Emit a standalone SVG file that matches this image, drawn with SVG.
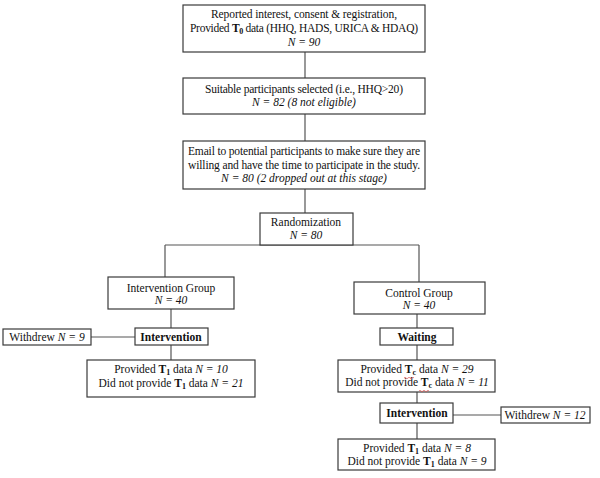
<svg xmlns="http://www.w3.org/2000/svg" width="600" height="478" viewBox="0 0 600 478">
<style>
.box{fill:#fff;stroke:#3a3a3a;stroke-width:1.2}
.ln{stroke:#555;stroke-width:1.2;fill:none}
text{font-family:'Liberation Serif','Times New Roman','DejaVu Serif',serif;font-size:11.5px;fill:#111;text-anchor:middle}
.i{font-style:italic}
.b{font-weight:bold}
.sub{font-size:8px;font-weight:bold}
.sq{stroke:#e05050;stroke-width:0.7;fill:none}
</style>
<rect width="600" height="478" fill="#fff"/>
<g id="connectors">
<path class="ln" d="M305 52V78M305 114V141M305 189V213"/>
<path class="ln" d="M165 245H419M165 245V277M419 245V282"/>
<path class="ln" d="M171 309V328M171 345V360M91 337H135"/>
<path class="ln" d="M417 314V328M417 345V360M417 392V403M417 423V439M453 415H501"/>
</g>
<g id="n1">
<rect class="box" x="183" y="5" width="242" height="47"/>
<text x="304" y="18" textLength="186" lengthAdjust="spacing">Reported interest, consent &amp; registration,</text>
<text x="304" y="32" textLength="228" lengthAdjust="spacing">Provided <tspan class="b">T</tspan><tspan class="sub" dy="2">0</tspan><tspan dy="-2"> data (HHQ, HADS, URICA &amp; HDAQ)</tspan></text>
<text x="304" y="46" class="i">N = 90</text>
</g>
<g id="n2">
<rect class="box" x="183" y="78" width="242" height="36"/>
<text x="304" y="93" textLength="198" lengthAdjust="spacing">Suitable participants selected (i.e., HHQ&gt;20)</text>
<text x="304" y="106" class="i">N = 82 (8 not eligible)</text>
</g>
<g id="n3">
<rect class="box" x="183" y="141" width="242" height="48"/>
<text x="304" y="155" textLength="232" lengthAdjust="spacing">Email to potential participants to make sure they are</text>
<text x="304" y="169" textLength="232" lengthAdjust="spacing">willing and have the time to participate in the study.</text>
<text x="304" y="182" class="i">N = 80 (2 dropped out at this stage)</text>
</g>
<g id="n4">
<rect class="box" x="260" y="213" width="93" height="32"/>
<text x="306" y="226">Randomization</text>
<text x="306" y="239" class="i">N = 80</text>
</g>
<g id="n5">
<rect class="box" x="108" y="277" width="126" height="32"/>
<text x="171" y="292">Intervention Group</text>
<text x="171" y="304" class="i">N = 40</text>
</g>
<g id="n6">
<rect class="box" x="354" y="282" width="131" height="32"/>
<text x="419" y="297">Control Group</text>
<text x="419" y="309" class="i">N = 40</text>
</g>
<g id="n7">
<rect class="box" x="3" y="329" width="88" height="16"/>
<text x="47" y="341">Withdrew <tspan class="i">N = 9</tspan></text>
</g>
<g id="n8">
<rect class="box" x="135" y="328" width="73" height="17"/>
<text x="171" y="341" class="b">Intervention</text>
</g>
<g id="n9">
<rect class="box" x="87" y="360" width="168" height="37"/>
<text x="171" y="373">Provided <tspan class="b">T</tspan><tspan class="sub" dy="2">1</tspan><tspan dy="-2"> data </tspan><tspan class="i">N = 10</tspan></text>
<text x="171" y="387">Did not provide <tspan class="b">T</tspan><tspan class="sub" dy="2">1</tspan><tspan dy="-2"> data </tspan><tspan class="i">N = 21</tspan></text>
</g>
<g id="n10">
<rect class="box" x="380" y="328" width="73" height="17"/>
<text x="417" y="341" class="b">Waiting</text>
</g>
<g id="n11">
<rect class="box" x="338" y="360" width="157" height="32"/>
<text x="417" y="373">Provided <tspan class="b">T</tspan><tspan class="sub" dy="2">c</tspan><tspan dy="-2"> data </tspan><tspan class="i">N = 29</tspan></text>
<text x="417" y="386">Did not provide <tspan class="b">T</tspan><tspan class="sub" dy="2">c</tspan><tspan dy="-2"> data </tspan><tspan class="i">N = 11</tspan></text>
<path class="sq" d="M404 378q1 -1.5 2 0t2 0t2 0t2 0t2 0"/>
<path class="sq" d="M419 391q1 -1.5 2 0t2 0t2 0t2 0t2 0"/>
</g>
<g id="n12">
<rect class="box" x="380" y="403" width="73" height="20"/>
<text x="417" y="417" class="b">Intervention</text>
</g>
<g id="n13">
<rect class="box" x="501" y="407" width="89" height="16"/>
<text x="545" y="419">Withdrew <tspan class="i">N = 12</tspan></text>
</g>
<g id="n14">
<rect class="box" x="338" y="439" width="157" height="31"/>
<text x="417" y="452">Provided <tspan class="b">T</tspan><tspan class="sub" dy="2">1</tspan><tspan dy="-2"> data </tspan><tspan class="i">N = 8</tspan></text>
<text x="417" y="465">Did not provide <tspan class="b">T</tspan><tspan class="sub" dy="2">1</tspan><tspan dy="-2"> data </tspan><tspan class="i">N = 9</tspan></text>
</g>
</svg>
